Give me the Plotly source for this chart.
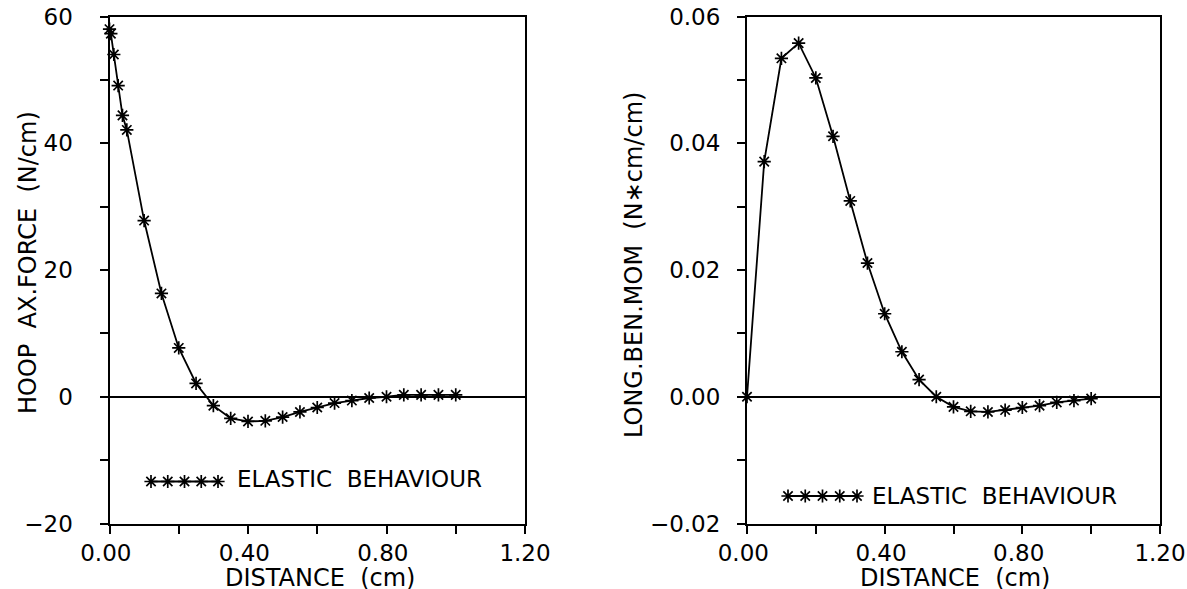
import plotly.graph_objects as go

# ---- data ----
hoop_x = [0, 0.004, 0.0125, 0.025, 0.0375, 0.05, 0.1, 0.15, 0.2, 0.25, 0.3, 0.35, 0.4,
          0.45, 0.5, 0.55, 0.6, 0.65, 0.7, 0.75, 0.8, 0.85, 0.9, 0.95, 1.0]
hoop_y = [58.0, 57.3, 54.0, 49.1, 44.4, 42.1, 27.8, 16.3, 7.7, 2.1, -1.4, -3.4, -3.9,
          -3.8, -3.2, -2.4, -1.7, -1.0, -0.6, -0.2, 0.0, 0.3, 0.3, 0.3, 0.3]

mom_x = [0, 0.05, 0.1, 0.15, 0.2, 0.25, 0.3, 0.35, 0.4, 0.45, 0.5, 0.55, 0.6, 0.65,
         0.7, 0.75, 0.8, 0.85, 0.9, 0.95, 1.0]
mom_y = [0.0, 0.0371, 0.0534, 0.0558, 0.0503, 0.0411, 0.0309, 0.0211, 0.0131, 0.0071,
         0.0027, 0.0, -0.0016, -0.0023, -0.0024, -0.0021, -0.0017, -0.0014, -0.0009,
         -0.0006, -0.0003]

NB = "\u00a0"
x_tickvals = [0.0, 0.4, 0.8, 1.2]
x_ticktext = ["0.00" + NB, "0.40" + NB, "0.80" + NB, "1.20"]
hoop_tickvals = [-20, 0, 20, 40, 60]
hoop_ticktext = ["\u221220", "0", "20", "40", "60"]
mom_tickvals = [-0.02, 0.0, 0.02, 0.04, 0.06]
mom_ticktext = ["\u22120.02", "0.00", "0.02", "0.04", "0.06"]

series_name = "ELASTIC  BEHAVIOUR"
x_title = "DISTANCE  (cm)"
hoop_title = "HOOP  AX.FORCE  (N/cm)"
mom_title = "LONG.BEN.MOM  (N\u2217cm/cm)"

W, H = 1187, 589
FONT = "DejaVu Sans"
TICK_SIZE = 23
TITLE_SIZE = 23

def px_x(p):
    return p / W

def px_y(p):
    return 1 - p / H

LEFT_DOM = [px_x(109.5), px_x(525)]
RIGHT_DOM = [px_x(747), px_x(1160)]
Y_DOM = [px_y(523.5), px_y(16.5)]

marker = dict(symbol="asterisk-open", size=11, color="black", line=dict(color="black", width=1.7))
line = dict(color="black", width=1.8)

fig = go.Figure()
fig.add_trace(go.Scatter(x=hoop_x, y=hoop_y, mode="lines+markers", marker=marker, line=line,
                         xaxis="x", yaxis="y", showlegend=False, cliponaxis=False))
fig.add_trace(go.Scatter(x=mom_x, y=mom_y, mode="lines+markers", marker=marker, line=line,
                         xaxis="x2", yaxis="y2", showlegend=False, cliponaxis=False))

# legend samples (pixel overlay axes, page pixel coordinates)
LEG = [(151, 218, 481.5, 235, 479), (788, 857, 496, 870, 496)]
for (x0, x1, yy, tx, ty) in LEG:
    n = 5
    xs = [x0 + (x1 - x0) * i / (n - 1) for i in range(n)]
    fig.add_trace(go.Scatter(x=xs, y=[yy] * n, mode="lines+markers", marker=marker,
                             line=line, xaxis="x3", yaxis="y3", showlegend=False,
                             hoverinfo="skip"))
    fig.add_annotation(x=px_x(tx), y=px_y(ty), xref="paper", yref="paper", text=series_name,
                       showarrow=False, xanchor="left", yanchor="middle",
                       font=dict(family=FONT, size=TITLE_SIZE, color="black"))

axis_common = dict(showline=True, mirror=True, linecolor="black", linewidth=2,
                   ticks="outside", ticklen=8, tickwidth=2, tickcolor="black",
                   showgrid=False, ticklabeloverflow="allow",
                   tickfont=dict(family=FONT, size=TICK_SIZE, color="black"))

xcommon = dict(axis_common, range=[0, 1.2], tickvals=x_tickvals, ticktext=x_ticktext,
               zeroline=False, ticklabelstandoff=0,
               minor=dict(tickvals=[0.2, 0.6, 1.0], ticks="outside", ticklen=8, tickwidth=2,
                          tickcolor="black"))

fig.update_layout(
    width=W, height=H, margin=dict(l=0, r=0, t=0, b=0, autoexpand=False),
    paper_bgcolor="white", plot_bgcolor="rgba(0,0,0,0)",
    xaxis=dict(xcommon, domain=LEFT_DOM, anchor="y"),
    yaxis=dict(axis_common, domain=Y_DOM, anchor="x", range=[-20, 60],
               tickvals=hoop_tickvals, ticktext=hoop_ticktext, ticklabelstandoff=22,
               zeroline=True, zerolinecolor="black", zerolinewidth=1.6,
               minor=dict(tickvals=[-10, 10, 30, 50], ticks="outside", ticklen=8, tickwidth=2,
                          tickcolor="black")),
    xaxis2=dict(xcommon, domain=RIGHT_DOM, anchor="y2"),
    yaxis2=dict(axis_common, domain=Y_DOM, anchor="x2", range=[-0.02, 0.06],
                tickvals=mom_tickvals, ticktext=mom_ticktext, ticklabelstandoff=12,
                zeroline=True, zerolinecolor="black", zerolinewidth=1.6,
                minor=dict(tickvals=[-0.01, 0.01, 0.03, 0.05], ticks="outside", ticklen=8,
                           tickwidth=2, tickcolor="black")),
    xaxis3=dict(domain=[0, 1], range=[0, W], visible=False, anchor="y3", fixedrange=True),
    yaxis3=dict(domain=[0, 1], range=[H, 0], visible=False, anchor="x3", fixedrange=True),
)

# axis titles
for cx in [320, 955]:
    fig.add_annotation(x=px_x(cx), y=px_y(578), xref="paper", yref="paper", text=x_title,
                       showarrow=False, xanchor="center", yanchor="middle",
                       font=dict(family=FONT, size=24, color="black"))
fig.add_annotation(x=px_x(28), y=px_y(263), xref="paper", yref="paper", text=hoop_title,
                   showarrow=False, textangle=-90, xanchor="center", yanchor="middle",
                   font=dict(family=FONT, size=24, color="black"))
fig.add_annotation(x=px_x(634), y=px_y(265), xref="paper", yref="paper", text=mom_title,
                   showarrow=False, textangle=-90, xanchor="center", yanchor="middle",
                   font=dict(family=FONT, size=24, color="black"))

fig.write_html("out.html", config={"displayModeBar": False},
               post_script="document.body.style.margin='0';")
